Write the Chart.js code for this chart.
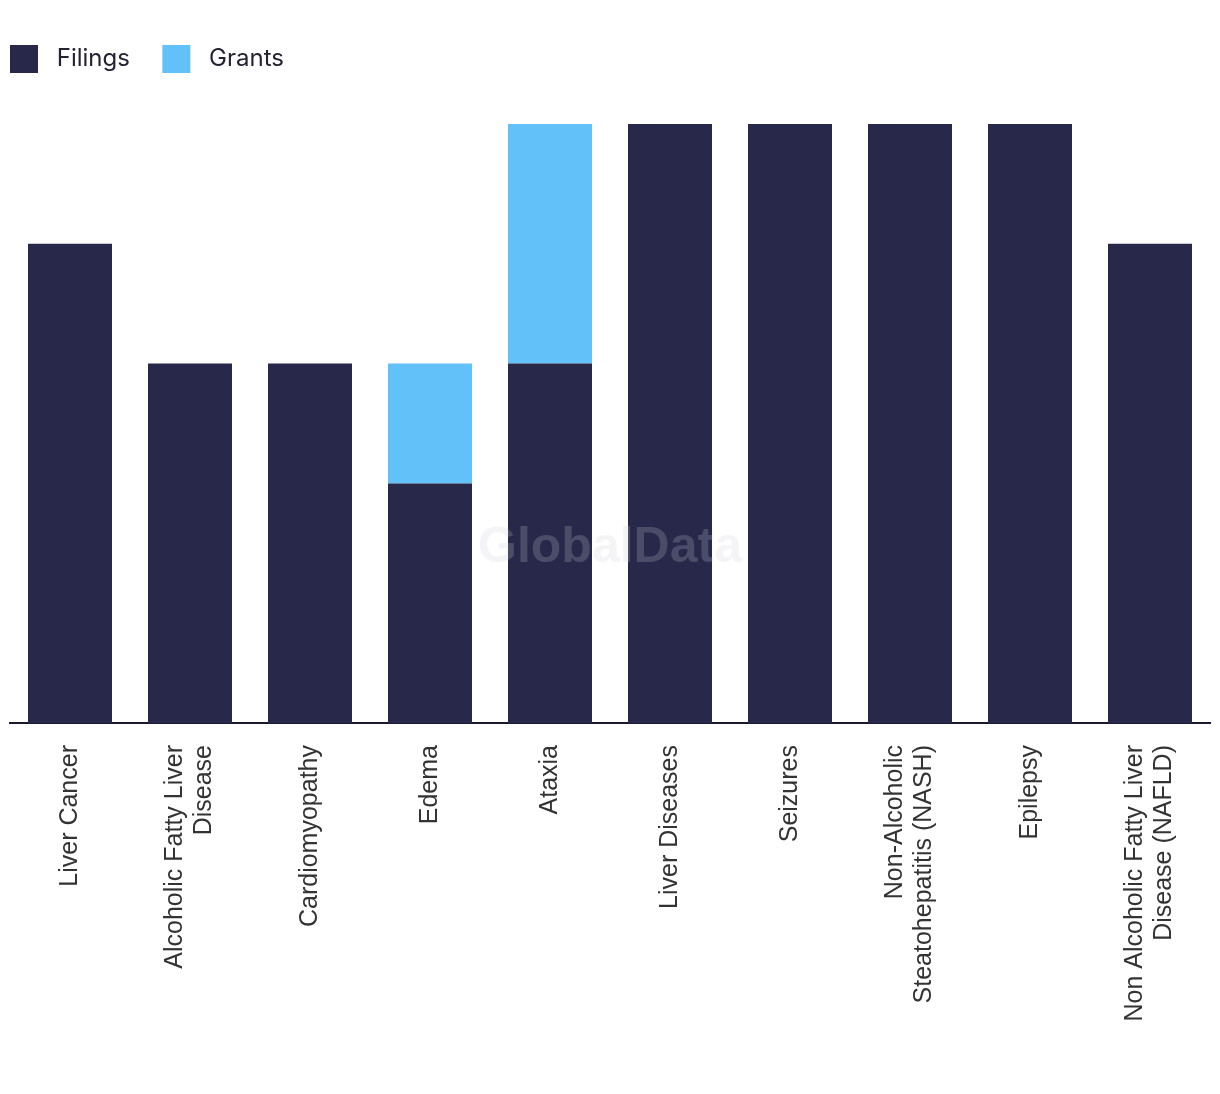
<!DOCTYPE html>
<html>
<head>
<meta charset="utf-8">
<script src="https://cdn.jsdelivr.net/npm/chart.js@4.4.1/dist/chart.umd.min.js"></script>
<style>
  html, body { margin: 0; padding: 0; background: #fff; }
  #wrap { width: 1220px; height: 1094px; position: relative; }
</style>
</head>
<body>
<div id="wrap"><canvas id="chart"></canvas></div>
<script>
// Categories (multi-line labels as arrays)
const categories = [
    'Liver Cancer',
    ['Alcoholic Fatty Liver', 'Disease'],
    'Cardiomyopathy',
    'Edema',
    'Ataxia',
    'Liver Diseases',
    'Seizures',
    ['Non-Alcoholic', 'Steatohepatitis (NASH)'],
    'Epilepsy',
    ['Non Alcoholic Fatty Liver', 'Disease (NAFLD)']
];

// Series values
const filings = [4, 3, 3, 2, 3, 5, 5, 5, 5, 4];
const grants  = [0, 0, 0, 1, 2, 0, 0, 0, 0, 0];

// Watermark drawn over the bars
const watermark = {
    id: 'watermark',
    afterDatasetsDraw(chart) {
        const ctx = chart.ctx;
        ctx.save();
        ctx.font = 'bold 50px "Liberation Sans", Arial, sans-serif';
        ctx.fillStyle = 'rgba(204, 204, 212, 0.22)';
        ctx.textAlign = 'center';
        ctx.textBaseline = 'middle';
        ctx.fillText('GlobalData', 610, 548);
        ctx.restore();
    }
};

// Vertical category labels, multi-line ones centred on the bar
const categoryLabels = {
    id: 'categoryLabels',
    afterDraw(chart) {
        const xs = chart.scales.x;
        const ctx = chart.ctx;
        ctx.save();
        ctx.font = '25px "Liberation Sans", Arial, sans-serif';
        ctx.fillStyle = '#333333';
        ctx.textAlign = 'right';
        ctx.textBaseline = 'middle';
        categories.forEach((lab, i) => {
            const lines = Array.isArray(lab) ? lab : [lab];
            const cx = xs.getPixelForValue(i);
            lines.forEach((ln, j) => {
                ctx.save();
                ctx.translate(cx + (j - (lines.length - 1) / 2) * 29, xs.top + 22);
                ctx.rotate(-Math.PI / 2);
                ctx.fillText(ln, 0, 0);
                ctx.restore();
            });
        });
        ctx.restore();
    }
};

// Give the legend a fixed height so the plot starts where it should
const legendHeight = {
    id: 'legendHeight',
    beforeLayout(chart) {
        const lg = chart.legend;
        if (lg && !lg._patched) {
            const fit = lg.fit;
            lg.fit = function () {
                fit.call(this);
                this.height = 89;
            };
            lg._patched = true;
        }
    }
};

new Chart(document.getElementById('chart'), {
    type: 'bar',
    data: {
        labels: categories,
        datasets: [
            {
                label: 'Filings',
                data: filings,
                backgroundColor: '#27284A',
                barPercentage: 0.7,
                categoryPercentage: 1.0
            },
            {
                label: 'Grants',
                data: grants,
                backgroundColor: '#63C1F9',
                barPercentage: 0.7,
                categoryPercentage: 1.0
            }
        ]
    },
    options: {
        responsive: true,
        maintainAspectRatio: false,
        animation: false,
        layout: {
            padding: { top: 35, left: 0, right: 10, bottom: 0 }
        },
        plugins: {
            legend: {
                position: 'top',
                align: 'start',
                labels: {
                    boxWidth: 28,
                    boxHeight: 28,
                    padding: 10,
                    color: '#222233',
                    font: { size: 24, family: 'Inter, "Noto Sans", sans-serif' },
                    generateLabels(chart) {
                        const items = Chart.defaults.plugins.legend.labels.generateLabels(chart);
                        items.forEach(it => { it.text = ' ' + it.text + '   \u200A'; });
                        return items;
                    }
                }
            },
            tooltip: { enabled: false }
        },
        scales: {
            x: {
                stacked: true,
                grid: { display: false, drawTicks: false },
                border: { display: true, color: '#1b1b2f', width: 2 },
                ticks: { display: false },
                afterFit(scale) {
                    scale.height = 371;
                    scale.paddingLeft = 0;
                    scale.paddingRight = 0;
                }
            },
            y: {
                stacked: true,
                display: true,
                min: 0,
                max: 5,
                grid: { display: false, drawTicks: false },
                border: { display: false },
                ticks: { display: false },
                afterFit(scale) { scale.width = 10; }
            }
        }
    },
    plugins: [watermark, categoryLabels, legendHeight]
});
</script>
</body>
</html>
